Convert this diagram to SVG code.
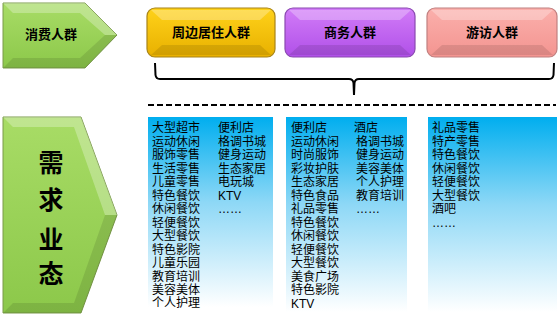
<svg xmlns="http://www.w3.org/2000/svg" width="559" height="324" viewBox="0 0 559 324">
<defs>
<linearGradient id="gBlue" x1="0" y1="0" x2="0" y2="1">
<stop offset="0" stop-color="#00AEEF"/>
<stop offset="0.45" stop-color="#8ED8F6"/>
<stop offset="1" stop-color="#FFFFFF"/>
</linearGradient>
<linearGradient id="gGreen" x1="0" y1="0" x2="0" y2="1">
<stop offset="0" stop-color="#A8DC66"/>
<stop offset="1" stop-color="#8CC84A"/>
</linearGradient>
<linearGradient id="gYellow" x1="0" y1="0" x2="0" y2="1">
<stop offset="0" stop-color="#FFD21A"/>
<stop offset="1" stop-color="#E8B000"/>
</linearGradient>
<linearGradient id="gPurple" x1="0" y1="0" x2="0" y2="1">
<stop offset="0" stop-color="#D27CF8"/>
<stop offset="1" stop-color="#B050E8"/>
</linearGradient>
<linearGradient id="gPink" x1="0" y1="0" x2="0" y2="1">
<stop offset="0" stop-color="#FBB0AC"/>
<stop offset="1" stop-color="#F39490"/>
</linearGradient>
</defs>
<style>
.lbl{font-family:"Noto Sans CJK SC","Liberation Sans",sans-serif;font-size:13px;font-weight:bold;fill:#000;text-anchor:middle}
.big{font-family:"Noto Sans CJK SC","Liberation Sans",sans-serif;font-size:25px;font-weight:bold;fill:#000;text-anchor:middle}
.li{font-family:"Liberation Sans","Noto Sans CJK SC",sans-serif;font-size:12px;fill:#000}
.hl{fill:#FFFFFF;opacity:0.28}
.sh{fill:#000000;opacity:0.10}
.brace{fill:none;stroke:#000;stroke-width:2}
</style>

<g id="consumer">
<polygon points="3,3 85,3 117,35 85,68 3,68" fill="url(#gGreen)" stroke="#7A9A4A" stroke-width="1"/>
<polygon class="hl" points="3,3 85,3 117,35 105,35 80,13 13,13"/>
<polygon class="sh" points="3,68 85,68 117,35 105,35 80,58 13,58"/>
<text class="lbl" x="51" y="39">消费人群</text>
</g>

<g id="resident">
<rect x="147" y="8" width="128" height="49" rx="8" fill="url(#gYellow)" stroke="#A88418" stroke-width="1.2"/>
<polygon class="hl" points="151,10 271,10 260,20 162,20"/>
<polygon class="sh" points="151,55 271,55 260,45 162,45"/>
<text class="lbl" x="211" y="37">周边居住人群</text>
</g>

<g id="business">
<rect x="285" y="8" width="130" height="49" rx="8" fill="url(#gPurple)" stroke="#8A4AB0" stroke-width="1.2"/>
<polygon class="hl" points="289,10 411,10 400,20 300,20"/>
<polygon class="sh" points="289,55 411,55 400,45 300,45"/>
<text class="lbl" x="350" y="37">商务人群</text>
</g>

<g id="visitor">
<rect x="427" y="8" width="130" height="49" rx="8" fill="url(#gPink)" stroke="#C08080" stroke-width="1.2"/>
<polygon class="hl" points="431,10 553,10 542,20 442,20"/>
<polygon class="sh" points="431,55 553,55 542,45 442,45"/>
<text class="lbl" x="492" y="37">游访人群</text>
</g>

<g id="connectors">
<path class="brace" d="M155,63 L155.5,75 Q156,79 160,79 L349,79 Q353,79 353.5,83 L354,95 M354,95 L354.5,83 Q355,79 359,79 L549,79 Q553,79 553.5,75 L554,63"/>
<line x1="148" y1="105" x2="556" y2="105" stroke="#000" stroke-width="2" stroke-dasharray="6,3"/>
</g>

<g id="demand">
<polygon points="3,117 81,117 117,215 81,313 3,313" fill="url(#gGreen)" stroke="#7A9A4A" stroke-width="1"/>
<polygon class="hl" points="3,117 81,117 117,215 105,215 74,127 13,127"/>
<polygon class="sh" points="3,313 81,313 117,215 105,215 74,303 13,303"/>
<text class="big" x="51" y="172">需</text>
<text class="big" x="51" y="209">求</text>
<text class="big" x="51" y="249">业</text>
<text class="big" x="51" y="283">态</text>
</g>

<g id="list-resident">
<rect x="148" y="117" width="125" height="190" fill="url(#gBlue)"/>
<text class="li" x="152" y="132">大型超市</text>
<text class="li" x="152" y="145.5">运动休闲</text>
<text class="li" x="152" y="159">服饰零售</text>
<text class="li" x="152" y="172.5">生活零售</text>
<text class="li" x="152" y="186">儿童零售</text>
<text class="li" x="152" y="199.5">特色餐饮</text>
<text class="li" x="152" y="213">休闲餐饮</text>
<text class="li" x="152" y="226.5">轻便餐饮</text>
<text class="li" x="152" y="240">大型餐饮</text>
<text class="li" x="152" y="253.5">特色影院</text>
<text class="li" x="152" y="267">儿童乐园</text>
<text class="li" x="152" y="280.5">教育培训</text>
<text class="li" x="152" y="294">美容美体</text>
<text class="li" x="152" y="307">个人护理</text>
<text class="li" x="218" y="132">便利店</text>
<text class="li" x="218" y="145.5">格调书城</text>
<text class="li" x="218" y="159">健身运动</text>
<text class="li" x="218" y="172.5">生态家居</text>
<text class="li" x="218" y="186">电玩城</text>
<text class="li" x="218" y="199.5">KTV</text>
<text class="li" x="218" y="213">……</text>
</g>

<g id="list-business">
<rect x="286" y="117" width="121" height="195" fill="url(#gBlue)"/>
<text class="li" x="291" y="132">便利店</text>
<text class="li" x="291" y="145.5">运动休闲</text>
<text class="li" x="291" y="159">时尚服饰</text>
<text class="li" x="291" y="172.5">彩妆护肤</text>
<text class="li" x="291" y="186">生态家居</text>
<text class="li" x="291" y="199.5">特色食品</text>
<text class="li" x="291" y="213">礼品零售</text>
<text class="li" x="291" y="226.5">特色餐饮</text>
<text class="li" x="291" y="240">休闲餐饮</text>
<text class="li" x="291" y="253.5">轻便餐饮</text>
<text class="li" x="291" y="267">大型餐饮</text>
<text class="li" x="291" y="280.5">美食广场</text>
<text class="li" x="291" y="294">特色影院</text>
<text class="li" x="291" y="307.5">KTV</text>
<text class="li" x="354" y="132">酒店</text>
<text class="li" x="356" y="145.5">格调书城</text>
<text class="li" x="356" y="159">健身运动</text>
<text class="li" x="356" y="172.5">美容美体</text>
<text class="li" x="356" y="186">个人护理</text>
<text class="li" x="356" y="199.5">教育培训</text>
<text class="li" x="356" y="213">……</text>
</g>

<g id="list-visitor">
<rect x="428" y="117" width="129" height="195" fill="url(#gBlue)"/>
<text class="li" x="432" y="132">礼品零售</text>
<text class="li" x="432" y="145.5">特产零售</text>
<text class="li" x="432" y="159">特色餐饮</text>
<text class="li" x="432" y="172.5">休闲餐饮</text>
<text class="li" x="432" y="186">轻便餐饮</text>
<text class="li" x="432" y="199.5">大型餐饮</text>
<text class="li" x="432" y="213">酒吧</text>
<text class="li" x="432" y="226.5">……</text>
</g>
</svg>
